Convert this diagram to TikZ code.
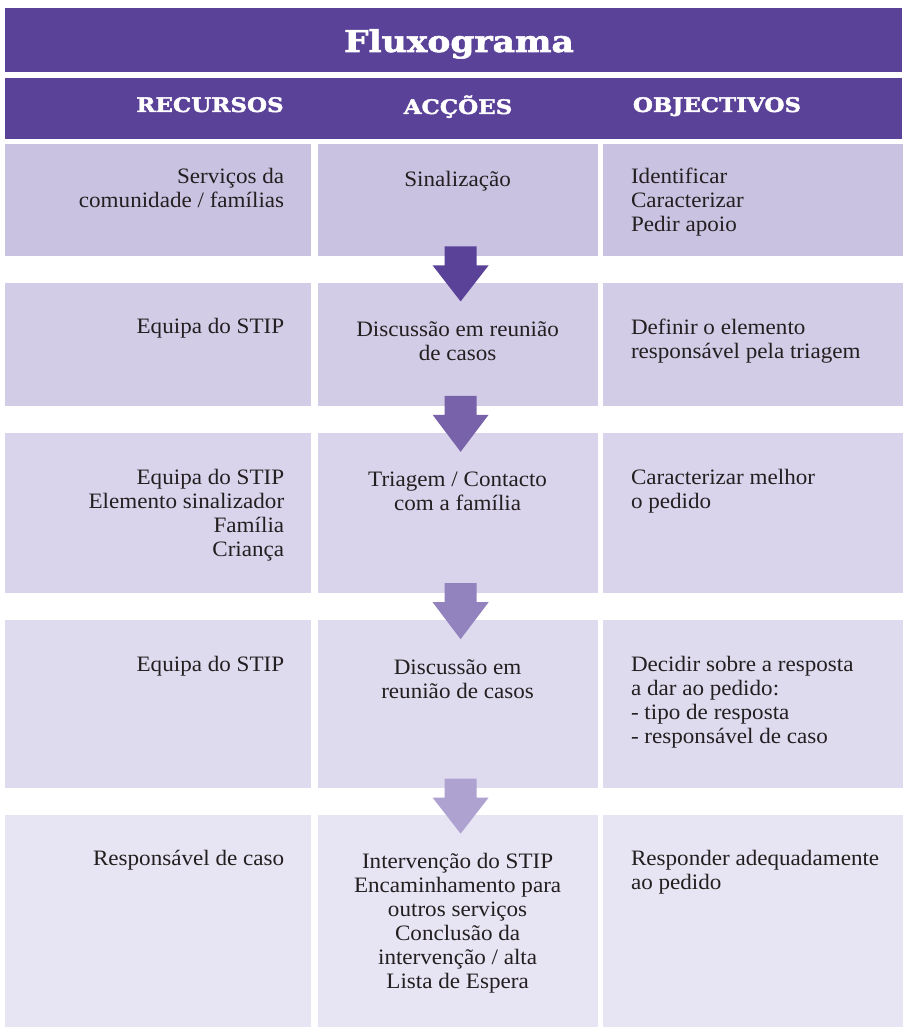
\documentclass[tikz,border=0pt]{standalone}
\usepackage{fontspec}
\setmainfont{Liberation Serif}[FakeStretch=1.05]
\newfontfamily\headfont{DejaVu Serif}[FakeStretch=1.15, BoldFeatures={FakeBold=2}]
\usepackage{tikz}
\usetikzlibrary{calc, positioning}
\usepackage{xcolor}
\definecolor{headpurple}{RGB}{91,66,153}
\definecolor{rowA}{RGB}{201,194,225}
\definecolor{rowB}{RGB}{210,204,230}
\definecolor{rowC}{RGB}{217,212,235}
\definecolor{rowD}{RGB}{223,219,239}
\definecolor{rowE}{RGB}{231,228,243}
\definecolor{arrA}{RGB}{91,66,153}
\definecolor{arrB}{RGB}{120,98,169}
\definecolor{arrC}{RGB}{146,130,189}
\definecolor{arrD}{RGB}{173,162,208}
\definecolor{inkgrey}{RGB}{35,31,32}

\begin{document}
\begin{tikzpicture}[x=1pt, y=1pt,
    band/.style={fill=headpurple, inner sep=0pt, minimum width=897pt},
    reccell/.style={inner sep=0pt, minimum width=306pt},
    acccell/.style={inner sep=0pt, minimum width=280pt},
    objcell/.style={inner sep=0pt, minimum width=300pt},
    headtxt/.style={text=white, inner sep=0pt, anchor=base, font=\headfont\bfseries\fontsize{20}{24}\selectfont},
    txt/.style={text=inkgrey, inner sep=0pt, font=\fontsize{22}{24}\selectfont},
    rectxt/.style={txt, align=right},
    acctxt/.style={txt, align=center},
    objtxt/.style={txt, align=left}]
  \useasboundingbox (0,0) rectangle (902,-1027);

  % header bands
  \node[band, minimum height=64pt, anchor=north west] (title) at (5,-8) {};
  \node[band, minimum height=61pt, below=5pt of title] (head) {};
  \node[headtxt, font=\headfont\bfseries\fontsize{30}{34}\selectfont] (titletxt) at (459,-52) {Fluxograma};
  \node[headtxt] (rechead) at (210,-112) {RECURSOS};
  \node[headtxt] (acchead) at (458,-114) {ACÇÕES};
  \node[headtxt] (objhead) at (717,-112) {OBJECTIVOS};

  % cells
  \node[reccell, fill=rowA, minimum height=112pt, anchor=north west] (rec1) at (5,-144) {};
  \node[acccell, fill=rowA, minimum height=112pt, right=6pt of rec1] (acc1) {};
  \node[objcell, fill=rowA, minimum height=112pt, right=5pt of acc1] (obj1) {};

  \node[reccell, fill=rowB, minimum height=123pt, below=26pt of rec1] (rec2) {};
  \node[acccell, fill=rowB, minimum height=123pt, right=6pt of rec2] (acc2) {};
  \node[objcell, fill=rowB, minimum height=123pt, right=5pt of acc2] (obj2) {};

  \node[reccell, fill=rowC, minimum height=160pt, below=27pt of rec2] (rec3) {};
  \node[acccell, fill=rowC, minimum height=160pt, right=6pt of rec3] (acc3) {};
  \node[objcell, fill=rowC, minimum height=160pt, right=5pt of acc3] (obj3) {};

  \node[reccell, fill=rowD, minimum height=168pt, below=27pt of rec3] (rec4) {};
  \node[acccell, fill=rowD, minimum height=168pt, right=6pt of rec4] (acc4) {};
  \node[objcell, fill=rowD, minimum height=168pt, right=5pt of acc4] (obj4) {};

  \node[reccell, fill=rowE, minimum height=214pt, below=26pt of rec4] (rec5) {};
  \node[acccell, fill=rowE, minimum height=214pt, right=6pt of rec5] (acc5) {};
  \node[objcell, fill=rowE, minimum height=214pt, right=5pt of acc5] (obj5) {};

  % texts
  \node[rectxt, below left=24pt and 27pt of rec1.north east] (rec1t) {Serviços da\\comunidade / famílias};
  \node[acctxt, below=27pt of acc1.north] (acc1t) {Sinalização};
  \node[objtxt, below right=24pt and 28pt of obj1.north west] (obj1t) {Identificar\\Caracterizar\\Pedir apoio};

  \node[rectxt, below left=36pt and 27pt of rec2.north east] (rec2t) {Equipa do STIP};
  \node[acctxt, below=39pt of acc2.north] (acc2t) {Discussão em reunião\\de casos};
  \node[objtxt, below right=36pt and 28pt of obj2.north west] (obj2t) {Definir o elemento\\responsável pela triagem};

  \node[rectxt, below left=36pt and 27pt of rec3.north east] (rec3t) {Equipa do STIP\\Elemento sinalizador\\Família\\Criança};
  \node[acctxt, below=39pt of acc3.north] (acc3t) {Triagem / Contacto\\com a família};
  \node[objtxt, below right=36pt and 28pt of obj3.north west] (obj3t) {Caracterizar melhor\\o pedido};

  \node[rectxt, below left=36pt and 27pt of rec4.north east] (rec4t) {Equipa do STIP};
  \node[acctxt, below=39pt of acc4.north] (acc4t) {Discussão em\\reunião de casos};
  \node[objtxt, below right=36pt and 28pt of obj4.north west] (obj4t) {Decidir sobre a resposta\\a dar ao pedido:\\- tipo de resposta\\- responsável de caso};

  \node[rectxt, below left=35pt and 27pt of rec5.north east] (rec5t) {Responsável de caso};
  \node[acctxt, below=38pt of acc5.north] (acc5t) {Intervenção do STIP\\Encaminhamento para\\outros serviços\\Conclusão da\\intervenção / alta\\Lista de Espera};
  \node[objtxt, below right=35pt and 28pt of obj5.north west] (obj5t) {Responder adequadamente\\ao pedido};

  % block arrows between the actions
  \fill[arrA] ($(acc1.south)+(-13,10)$) -- ($(acc1.south)+(19,10)$) -- ($(acc1.south)+(19,-9)$) -- ($(acc1.south)+(31,-9)$) -- ($(acc2.north)+(3,-19)$) -- ($(acc1.south)+(-25,-9)$) -- ($(acc1.south)+(-13,-9)$) -- cycle;
  \fill[arrB] ($(acc2.south)+(-13,10)$) -- ($(acc2.south)+(19,10)$) -- ($(acc2.south)+(19,-9)$) -- ($(acc2.south)+(31,-9)$) -- ($(acc3.north)+(3,-19)$) -- ($(acc2.south)+(-25,-9)$) -- ($(acc2.south)+(-13,-9)$) -- cycle;
  \fill[arrC] ($(acc3.south)+(-13,10)$) -- ($(acc3.south)+(19,10)$) -- ($(acc3.south)+(19,-9)$) -- ($(acc3.south)+(31,-9)$) -- ($(acc4.north)+(3,-19)$) -- ($(acc3.south)+(-25,-9)$) -- ($(acc3.south)+(-13,-9)$) -- cycle;
  \fill[arrD] ($(acc4.south)+(-13,10)$) -- ($(acc4.south)+(19,10)$) -- ($(acc4.south)+(19,-9)$) -- ($(acc4.south)+(31,-9)$) -- ($(acc5.north)+(3,-19)$) -- ($(acc4.south)+(-25,-9)$) -- ($(acc4.south)+(-13,-9)$) -- cycle;
\end{tikzpicture}
\end{document}
